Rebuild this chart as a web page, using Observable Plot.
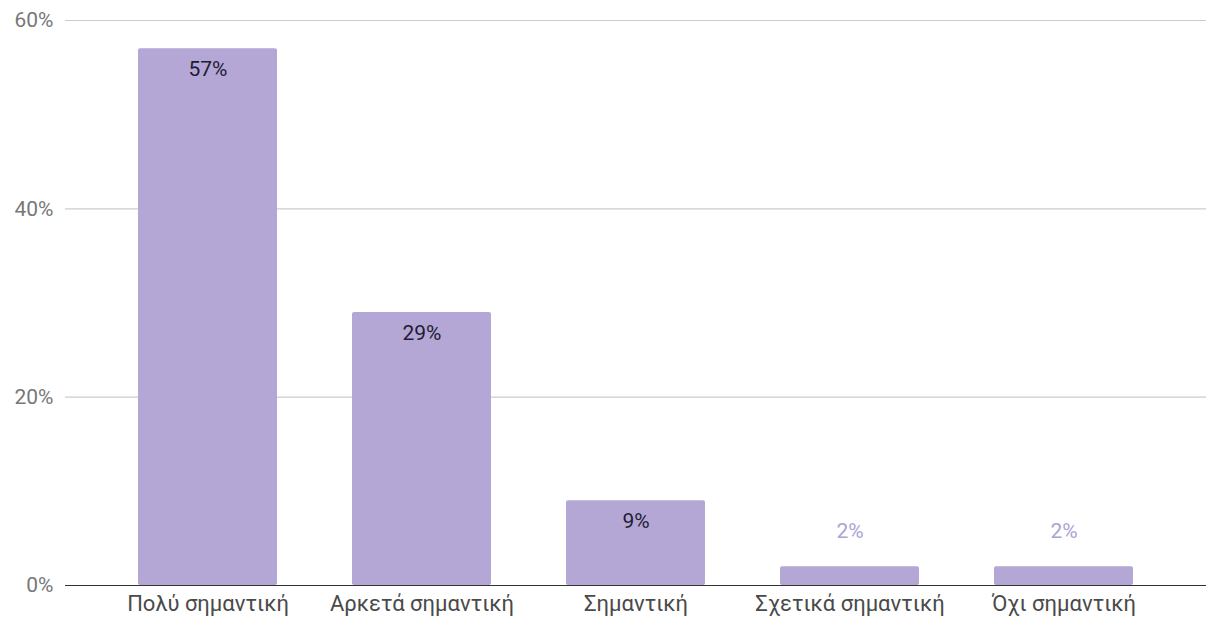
<!DOCTYPE html>
<html>
<head>
<meta charset="utf-8">
<script src="https://cdn.jsdelivr.net/npm/d3@7"></script>
<script src="https://cdn.jsdelivr.net/npm/@observablehq/plot@0.6"></script>
<style>
  html, body { margin: 0; padding: 0; background: #fff; }
  #chart { width: 1206px; height: 619px; }
</style>
</head>
<body>
<div id="chart"></div>
<script>
const categories = ["Πολύ σημαντική", "Αρκετά σημαντική", "Σημαντική", "Σχετικά σημαντική", "Όχι σημαντική"];
const values = [57, 29, 9, 2, 2];
const yTicks = [0, 20, 40, 60];

const data = categories.map((c, i) => ({category: c, value: values[i]}));

const chart = Plot.plot({
  width: 1206,
  height: 619,
  marginLeft: 65,
  marginRight: 0,
  marginTop: 20,
  marginBottom: 34,
  style: {fontFamily: "Roboto, sans-serif", background: "#fff", overflow: "visible"},
  x: {domain: categories, paddingInner: 0.35, paddingOuter: 0.34, label: null},
  y: {domain: [0, 60], label: null},
  marks: [
    Plot.ruleY(yTicks.filter(d => d > 0), {stroke: "#cccccc", strokeWidth: 1.2}),
    Plot.barY(data, {x: "category", y: "value", fill: "#b4a7d6", rx: 2}),
    Plot.ruleY([0], {stroke: "#333333", strokeWidth: 1.2}),
    Plot.text(data.filter(d => d.value >= 5), {
      x: "category", y: "value", text: d => d.value + "%",
      dy: 21, fill: "#1f1d33", fontSize: 21
    }),
    Plot.text(data.filter(d => d.value < 5), {
      x: "category", y: "value", text: d => d.value + "%",
      dy: -35, fill: "#aea3d2", fontSize: 21
    }),
    Plot.axisY({ticks: yTicks, tickFormat: d => d + "%", tickSize: 0, tickPadding: 12,
      fontSize: 21, color: "#777777", label: null}),
    Plot.axisX({tickSize: 0, tickPadding: 10, fontSize: 22, color: "#4a4a4a", label: null})
  ]
});
document.getElementById("chart").appendChild(chart);
</script>
</body>
</html>
